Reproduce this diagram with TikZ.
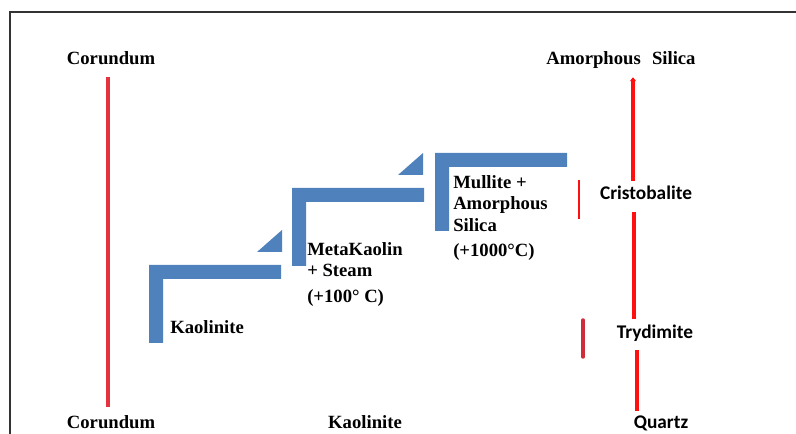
\documentclass[tikz,border=0pt]{standalone}
\usepackage{fontspec}
\setmainfont{Liberation Serif}
\newfontfamily\calibfont{Carlito}
\usetikzlibrary{calc,arrows.meta}

\definecolor{stepblue}{HTML}{4F81BD}
\definecolor{linered}{HTML}{FF1010}
\definecolor{rosered}{HTML}{E5323F}

\begin{document}
\begin{tikzpicture}[x=0.75pt,y=-0.75pt,
    serifbf/.style={font=\fontsize{14}{16.2}\selectfont\bfseries, inner sep=0pt},
    sansbf/.style={font=\fontsize{14.5}{17}\selectfont\calibfont\bfseries, inner sep=0pt},
    redline/.style={draw=linered, line width=2.4pt},
    stepbar/.style={fill=stepblue}]
    \useasboundingbox (0,0) rectangle (796,434);
    % frame
    \draw[black!80, line width=0.8pt] (10,434) -- (10,12) -- (796,12);

    % stairs
    \foreach \sx/\sy in {149/265, 292/188, 435/153}
        \fill[stepbar] (\sx,\sy) -- ++(132,0) -- ++(0,14) -- ++(-118,0) -- ++(0,64) -- ++(-14,0) -- cycle;
    \foreach \tx/\ty in {282/252, 423/175}
        \fill[stepbar] (\tx,\ty) -- ++(-25,0) -- ++(25,-22) -- cycle;

    % labels
    \node[serifbf, anchor=base] (corTop) at (111,65) {Corundum};
    \node[serifbf, anchor=base] (amSil) at (621,65) {Amorphous\hspace{0.6em}Silica};
    \node[serifbf, anchor=base] (corBot) at (111,429) {Corundum};
    \node[serifbf, anchor=base] (kaoBot) at (365,429) {Kaolinite};
    \node[sansbf, anchor=base] (quartz) at (661,429) {Quartz};
    \node[sansbf, anchor=base] (cris) at (646,200) {Cristobalite};
    \node[sansbf, anchor=base] (tryd) at (655,339) {Trydimite};

    \node[serifbf, anchor=base west] (kaoStep) at (170,334) {Kaolinite};
    \node[serifbf, anchor=north west, align=left] (metaK) at (307,242) {MetaKaolin\\+ Steam};
    \node[serifbf, anchor=base west] (tempA) at (307,303) {(+100° C)};
    \node[serifbf, anchor=north west, align=left] (mull) at (453,175) {Mullite +\\Amorphous\\Silica};
    \node[serifbf, anchor=base west] (tempB) at (453,257) {(+1000°C)};

    % red lines
    \draw[redline, draw=rosered, line width=2.6pt] ($(corBot.north)+(-3,-9)$) -- ($(corTop.south)+(-3,12)$);
    \draw[redline, -{Triangle[length=3pt,width=4.5pt]}] ($(cris.north)+(-13,-5)$) -- ($(amSil.south)+(12,8)$);
    \draw[redline] ($(tryd.north)+(-21,-6)$) -- ($(cris.south)+(-12,12)$);
    \draw[redline] ($(quartz.north)+(-24,-5)$) -- ($(tryd.south)+(-18,8)$);

    % short marks
    \draw[linered, line width=1.8pt] (579,180) -- (579,219);
    \draw[rosered!90!black, line width=2.6pt, line cap=round] (583,320) -- (583,357);
\end{tikzpicture}
\end{document}
